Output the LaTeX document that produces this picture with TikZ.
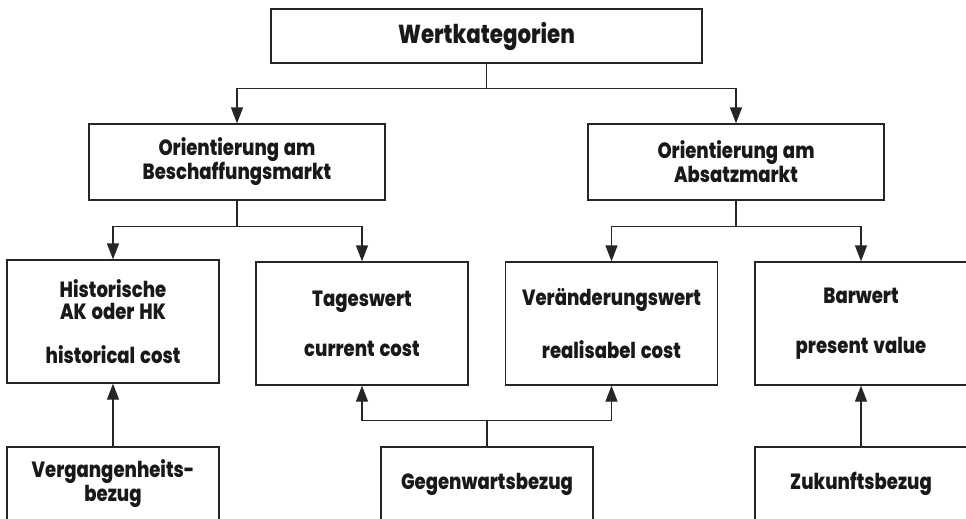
\documentclass[tikz,border=0pt]{standalone}
\usepackage{fontspec}
\setmainfont{Poppins}[BoldFont={Poppins ExtraBold}, FakeStretch=0.82, WordSpace=1.4]
\usetikzlibrary{arrows.meta}
\begin{document}
\begin{tikzpicture}[x=1pt,y=-1pt,
  box/.style={draw=black!85, line width=1.3pt, rectangle, inner sep=0pt,
    align=center, text=black!90,
    font=\bfseries\fontsize{22}{22}\selectfont},
  midbox/.style={box, minimum width=296, minimum height=76,
    font=\bfseries\fontsize{22}{24}\selectfont},
  rowbox/.style={box, minimum width=212, minimum height=123},
  basebox/.style={box, minimum width=212, minimum height=74,
    font=\bfseries\fontsize{22}{24}\selectfont},
  conn/.style={draw=black!85, line width=1.3pt},
  arr/.style={conn, -{Triangle[length=16pt,width=12pt]}}]
\useasboundingbox (0,0) rectangle (966,519);
\clip (0,0) rectangle (966,519);

% top level
\node[box, minimum width=431, minimum height=54,
  font=\bfseries\fontsize{26}{26}\selectfont] (top) at (486.5,36) {Wertkategorien};

% market orientation
\node[midbox] (ml) at (237,162) {Orientierung am\\Beschaffungsmarkt};
\node[midbox] (mr) at (736,162) {Orientierung am\\Absatzmarkt};

% value categories
\node[rowbox] (b1) at (113,321.5) {Historische\\AK oder HK\\[22pt]historical cost};
\node[rowbox] (b2) at (362,323.5) {Tageswert\\[28pt]current cost};
\node[rowbox] (b3) at (611.5,323.5) {Veränderungswert\\[28pt]realisabel cost};
\node[rowbox] (b4) at (861,323.5) {Barwert\\[28pt]present value};

% time reference (boxes run past the lower edge)
\node[basebox] (v1) at (113,484) {Vergangenheits-\\bezug};
\node[basebox] (g) at (487,484) {Gegenwartsbezug};
\node[basebox] (z) at (861,484) {Zukunftsbezug};

% connectors
\draw[conn] (top.south) -- ++(0,25) coordinate (tj);
\draw[arr] (tj) -| (ml.north);
\draw[arr] (tj) -| (mr.north);

\draw[conn] (ml.south) -- ++(0,26) coordinate (lj);
\draw[arr] (lj) -| (b1.north);
\draw[arr] (lj) -| (b2.north);

\draw[conn] (mr.south) -- ++(0,26) coordinate (rj);
\draw[arr] (rj) -| (b3.north);
\draw[arr] (rj) -| (b4.north);

\draw[arr] (v1.north) -- (b1.south);
\draw[conn] (g.north) -- ++(0,-26) coordinate (gj);
\draw[arr] (gj) -| (b2.south);
\draw[arr] (gj) -| (b3.south);
\draw[arr] (z.north) -- (b4.south);
\end{tikzpicture}
\end{document}
